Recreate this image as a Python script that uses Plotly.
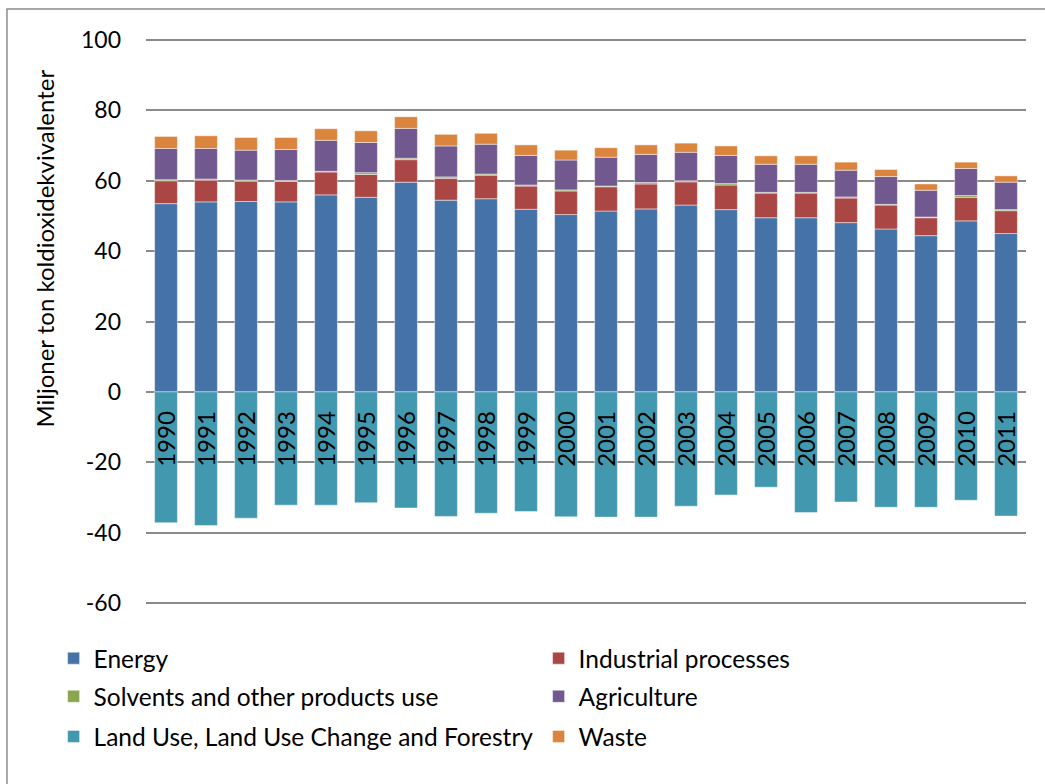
import plotly.graph_objects as go

# Greenhouse gas emissions by sector, million tonnes CO2-equivalents
years = [str(y) for y in range(1990, 2012)]

energy = [53.5, 54.0, 54.1, 54.0, 56.0, 55.3, 59.6, 54.5, 54.9, 51.9, 50.4,
          51.4, 52.0, 53.1, 51.8, 49.5, 49.5, 48.1, 46.3, 44.4, 48.6, 45.0]
industrial = [6.5, 6.2, 5.8, 5.8, 6.5, 6.5, 6.4, 6.2, 6.7, 6.6, 6.7,
              6.9, 7.1, 6.6, 7.0, 7.0, 7.0, 7.0, 6.8, 5.1, 6.7, 6.5]
solvents = [0.3, 0.3, 0.3, 0.3, 0.2, 0.5, 0.4, 0.4, 0.3, 0.3, 0.3,
            0.2, 0.4, 0.3, 0.4, 0.2, 0.2, 0.3, 0.2, 0.2, 0.5, 0.3]
agriculture = [8.9, 8.7, 8.5, 8.8, 8.8, 8.6, 8.5, 8.8, 8.5, 8.4, 8.5,
               8.2, 8.0, 8.1, 8.0, 8.0, 8.0, 7.6, 7.9, 7.6, 7.7, 7.8]
lulucf = [-37.2, -38.0, -35.9, -32.2, -32.2, -31.5, -33.0, -35.4, -34.5, -34.0, -35.5,
          -35.6, -35.6, -32.5, -29.3, -27.1, -34.3, -31.3, -32.8, -32.8, -30.8, -35.3]
waste = [3.4, 3.6, 3.6, 3.4, 3.3, 3.3, 3.3, 3.3, 3.1, 3.0, 2.8,
         2.7, 2.7, 2.6, 2.7, 2.4, 2.4, 2.3, 2.0, 1.8, 1.8, 1.8]

y_ticks = [-60, -40, -20, 0, 20, 40, 60, 80, 100]
y_ticktext = ["-60", "-40", "-20", "0", "20", "40", "60", "80", "100"]

# (name, values, colour, legend row)
series = [
    ("Energy", energy, "#4572A7", "legend"),
    ("Industrial processes", industrial, "#AA4643", "legend"),
    ("Solvents and other products use", solvents, "#89A54E", "legend2"),
    ("Agriculture", agriculture, "#71588F", "legend2"),
    ("Land Use, Land Use Change and Forestry", lulucf, "#4198AF", "legend3"),
    ("Waste", waste, "#DB843D", "legend3"),
]

FONT = "Lato, Carlito, Calibri, sans-serif"
FS = 23

fig = go.Figure()
for name, vals, color, leg in series:
    fig.add_trace(go.Bar(
        x=years, y=vals, name=name, legend=leg,
        marker=dict(color=color, line=dict(color="rgba(255,255,255,0.45)", width=1)),
    ))

# year labels sit just below the zero line, rotated (x given as category index)
for i, yr in enumerate(years):
    fig.add_annotation(
        x=i, y=0, xref="x", yref="y", text=yr, showarrow=False,
        textangle=-90, yanchor="top", xanchor="center", yshift=-17,
        font=dict(family=FONT, size=24, color="black"),
    )

# y-axis title
fig.add_annotation(
    xref="paper", yref="paper", x=-0.1148, y=0.629, xanchor="center", yanchor="middle",
    text="Miljoner ton koldioxidekvivalenter", showarrow=False,
    textangle=-90, font=dict(family=FONT, size=24, color="black"),
)

# chart frame
fig.add_shape(type="rect", xref="paper", yref="paper",
              x0=-0.158, x1=1.2, y0=1.0533, y1=-0.5,
              line=dict(color="#8c8c8c", width=1.5), fillcolor="rgba(0,0,0,0)", layer="below")

legend_style = dict(
    orientation="h", xanchor="left", x=-0.105, yanchor="middle",
    entrywidth=440, entrywidthmode="pixels",
    font=dict(family=FONT, size=24.5, color="black"),
    bgcolor="rgba(0,0,0,0)", traceorder="normal",
)

fig.update_layout(
    width=1045, height=784,
    barmode="relative", bargap=0.43,
    paper_bgcolor="white", plot_bgcolor="white",
    margin=dict(l=146, r=19, t=39, b=180, autoexpand=False),
    font=dict(family=FONT, size=FS, color="black"),
    showlegend=True,
    legend=dict(legend_style, y=-0.096),
    legend2=dict(legend_style, y=-0.1635),
    legend3=dict(legend_style, y=-0.2345),
    xaxis=dict(type="category", range=[-0.5, 21.5], showticklabels=False, showgrid=False,
               zeroline=False, showline=False, ticks=""),
    yaxis=dict(
        range=[-60.3, 100.3], tickvals=y_ticks, ticktext=y_ticktext,
        showgrid=True, gridcolor="#8a8a8a", gridwidth=1.8,
        zeroline=False, showline=False, ticks="", ticklabelstandoff=24,
    ),
)

fig.write_html("out.html")
